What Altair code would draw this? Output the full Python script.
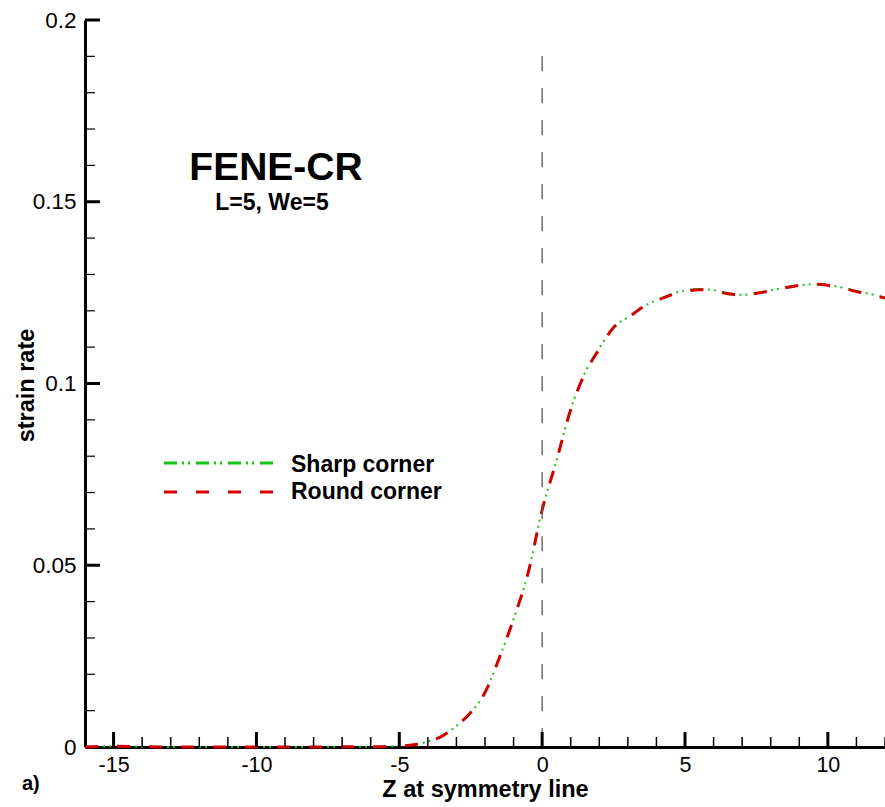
import altair as alt
import pandas as pd

FONT = "Liberation Sans"
GREEN = "#16c416"
RED = "#d40000"

# ---- data ----
z = [-16, -15, -14, -13, -12, -11, -10, -9, -8, -7, -6, -5, -4.5, -4, -3.5, -3, -2.5, -2,
     -1.5, -1, -0.5, 0, 0.5, 1, 1.5, 2, 2.5, 3, 3.5, 4, 4.5, 5, 5.5, 6, 6.5, 7, 7.5, 8,
     8.5, 9, 9.5, 10, 10.5, 11, 11.5, 12]
sharp = [0, 0.0002, 0.0001, 0, 0, 0, 0, 0, 0, 0.0001, 0.0001, 0.0003, 0.0006, 0.0015, 0.0030,
         0.0058, 0.0095, 0.0150, 0.0245, 0.0352, 0.0476, 0.0652, 0.0788, 0.0929, 0.1030,
         0.1097, 0.1155, 0.1182, 0.1210, 0.1229, 0.1245, 0.1256, 0.1260, 0.1257, 0.1249,
         0.1244, 0.1249, 0.1256, 0.1264, 0.1270, 0.1273, 0.1271, 0.1264, 0.1254, 0.1246, 0.1236]
round_c = [0, 0.0002, 0.0001, 0, 0, 0, 0, 0, 0, 0.0001, 0.0001, 0.0003, 0.0006, 0.0015, 0.0030,
           0.0058, 0.0095, 0.0150, 0.0245, 0.0352, 0.0476, 0.0652, 0.0787, 0.0928, 0.1028,
           0.1095, 0.1154, 0.1180, 0.1209, 0.1227, 0.1243, 0.1253, 0.1258, 0.1255, 0.1247,
           0.1243, 0.1248, 0.1255, 0.1263, 0.1270, 0.1273, 0.1270, 0.1263, 0.1253, 0.1245, 0.1235]

x_labels = [-15, -10, -5, 0, 5, 10]
x_minor = [-16, -14, -13, -12, -11, -9, -8, -7, -6, -4, -3, -2, -1, 1, 2, 3, 4, 6, 7, 8, 9, 11, 12]
y_labels = [0, 0.05, 0.1, 0.15, 0.2]
y_major = [0.05, 0.1, 0.15, 0.2]
y_minor = [0.01, 0.02, 0.03, 0.04, 0.06, 0.07, 0.08, 0.09, 0.11, 0.12, 0.13, 0.14,
           0.16, 0.17, 0.18, 0.19]
center_line = [0]
center_top = [0.19]
legend_labels = ["Sharp corner", "Round corner"]
title_text = ["FENE-CR"]
subtitle_text = ["L=5, We=5"]
panel_text = ["a)"]

W, H = 800, 727

xs = alt.Scale(domain=[-16, 12], nice=False, zero=False)
ys = alt.Scale(domain=[0, 0.2], nice=False, zero=False)

xaxis = alt.Axis(values=x_labels, labelExpr="datum.value + ''", ticks=False, tickSize=0, grid=False,
                 domainWidth=3, domainColor="black", labelFont=FONT, labelFontSize=21.5,
                 labelColor="black", labelPadding=7, labelFlush=False, labelOverlap=False,
                 title="Z at symmetry line", titleFont=FONT, titleFontSize=23.5,
                 titleFontWeight="bold", titleColor="black", titleX=W / 2, titleY=49,
                 titleBaseline="alphabetic", titleAlign="center")
yaxis = alt.Axis(values=y_labels, format="~g", ticks=False, tickSize=0, grid=False,
                 domainWidth=3, domainColor="black", labelFont=FONT, labelFontSize=22.5,
                 labelColor="black", labelPadding=9, labelFlush=False, labelOverlap=False,
                 title="strain rate", titleFont=FONT, titleFontSize=23.5,
                 titleFontWeight="bold", titleColor="black", titleX=-52, titleY=365,
                 titleBaseline="alphabetic", titleAlign="center")


def X(field="z"):
    return alt.X(f"{field}:Q", scale=xs, axis=xaxis)


def Y(field="rate"):
    return alt.Y(f"{field}:Q", scale=ys, axis=yaxis)


df_sharp = pd.DataFrame({"z": z, "rate": sharp})
df_round = pd.DataFrame({"z": z, "rate": round_c})

green = alt.Chart(df_sharp).mark_line(
    color=GREEN, strokeWidth=2, strokeDash=[13, 5, 2, 4, 2, 6], interpolate="monotone"
).encode(x=X(), y=Y())
red = alt.Chart(df_round).mark_line(
    color=RED, strokeWidth=3, strokeDash=[13, 19], interpolate="monotone"
).encode(x=X(), y=Y())

center = alt.Chart(pd.DataFrame({"z": center_line, "rate": center_top, "rate2": [0]})).mark_rule(
    color="#555555", strokeWidth=1.3, strokeDash=[15, 17]
).encode(x=X(), y=Y(), y2="rate2:Q")

xt_major = alt.Chart(pd.DataFrame({"z": x_labels})).mark_rule(color="black", strokeWidth=3).encode(
    x=X(), y=alt.value(H), y2=alt.value(H - 15))
xt_minor = alt.Chart(pd.DataFrame({"z": x_minor})).mark_rule(color="black", strokeWidth=1.5).encode(
    x=X(), y=alt.value(H), y2=alt.value(H - 10))
yt_major = alt.Chart(pd.DataFrame({"rate": y_major})).mark_rule(color="black", strokeWidth=3).encode(
    y=Y(), x=alt.value(0), x2=alt.value(15))
yt_minor = alt.Chart(pd.DataFrame({"rate": y_minor})).mark_rule(color="black", strokeWidth=1.2).encode(
    y=Y(), x=alt.value(0), x2=alt.value(10))

# legend (drawn by hand, as in the original figure)
leg_df = pd.DataFrame({"t": legend_labels})
leg_green = alt.Chart(leg_df.iloc[[0]]).mark_rule(
    color=GREEN, strokeWidth=3, strokeDash=[13, 5, 2, 4, 2, 6]
).encode(x=alt.value(79), x2=alt.value(188), y=alt.value(443))
leg_red = alt.Chart(leg_df.iloc[[1]]).mark_rule(
    color=RED, strokeWidth=3, strokeDash=[13, 19]
).encode(x=alt.value(79), x2=alt.value(188), y=alt.value(472))
leg_t1 = alt.Chart(leg_df.iloc[[0]]).mark_text(
    font=FONT, fontSize=23, fontWeight="bold", color="black", align="left", baseline="alphabetic"
).encode(text="t:N", x=alt.value(206), y=alt.value(452))
leg_t2 = alt.Chart(leg_df.iloc[[1]]).mark_text(
    font=FONT, fontSize=23, fontWeight="bold", color="black", align="left", baseline="alphabetic"
).encode(text="t:N", x=alt.value(206), y=alt.value(479))

title = alt.Chart(pd.DataFrame({"t": title_text})).mark_text(
    font=FONT, fontSize=39, fontWeight="bold", color="black", align="center", baseline="alphabetic"
).encode(text="t:N", x=alt.value(191), y=alt.value(160))
subtitle = alt.Chart(pd.DataFrame({"t": subtitle_text})).mark_text(
    font=FONT, fontSize=23, fontWeight="bold", color="black", align="center", baseline="alphabetic"
).encode(text="t:N", x=alt.value(187), y=alt.value(190))
panel = alt.Chart(pd.DataFrame({"t": panel_text})).mark_text(
    font=FONT, fontSize=20, fontWeight="bold", color="black", align="left", baseline="alphabetic"
).encode(text="t:N", x=alt.value(-63), y=alt.value(770))

chart = alt.layer(
    green, red, center, xt_major, xt_minor, yt_major, yt_minor,
    leg_green, leg_red, leg_t1, leg_t2, title, subtitle, panel
).properties(
    width=W, height=H,
    autosize=alt.AutoSizeParams(type="none"),
    padding={"left": 85, "top": 20, "right": 0, "bottom": 60},
    background="white",
).configure_view(stroke=None)

chart.save("out.html", embed_options={"renderer": "svg", "actions": False})
